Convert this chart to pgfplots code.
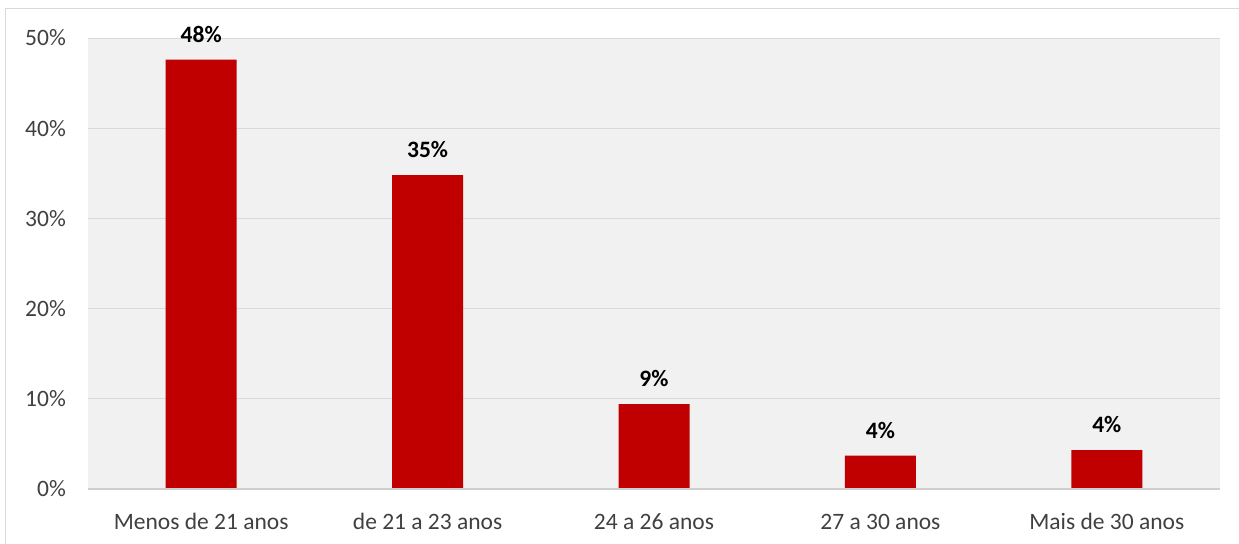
\documentclass[border=0pt]{standalone}
\usepackage{fontspec}
\setmainfont{Carlito}
\usepackage{pgfplots}
\pgfplotsset{compat=1.18}
\definecolor{barred}{HTML}{C00000}
\definecolor{plotbg}{HTML}{F1F1F1}
\definecolor{gridgray}{HTML}{D9D9D9}
\definecolor{axisgray}{HTML}{CFCFCF}
\definecolor{ticktext}{HTML}{404040}
\begin{document}
\begin{tikzpicture}
\path[use as bounding box] (-88bp,-55bp) rectangle (1151bp,489bp);
\draw[gridgray, line width=1bp] (-82bp,-80bp) -- (-82bp,480bp) -- (1180bp,480bp);
\begin{axis}[
  scale only axis,
  width=1132bp, height=451bp,
  xmin=-0.5, xmax=4.5, ymin=0, ymax=50,
  axis background/.style={fill=plotbg},
  axis line style={draw=none},
  major tick length=0pt,
  ymajorgrids,
  grid style={gridgray, line width=0.8bp},
  ytick={0,10,20,30,40,50},
  yticklabel={\pgfmathprintnumber{\tick}\%},
  xtick={0,1,2,3,4},
  xticklabels={Menos de 21 anos, de 21 a 23 anos, 24 a 26 anos, 27 a 30 anos, Mais de 30 anos},
  /pgf/number format/assume math mode=true,
  tick label style={font=\fontsize{23.5bp}{27bp}\selectfont, text=ticktext},
  yticklabel style={anchor=east, inner sep=0pt, xshift=-22bp},
  xticklabel style={anchor=base, inner sep=0pt, yshift=-40bp},
  ybar, bar width=71bp,
  nodes near coords={\pgfmathprintnumber[fixed,precision=0]{\pgfplotspointmeta}\%},
  nodes near coords style={font=\fontsize{23.5bp}{27bp}\selectfont\bfseries, text=black, anchor=base, inner sep=0pt, yshift=17.5bp},
]
\addplot[fill=barred, draw=none] coordinates {(0,47.6) (1,34.8) (2,9.4) (3,3.7) (4,4.3)};
\draw[axisgray, line width=1.2bp] (axis cs:-0.5,0) -- (axis cs:4.5,0);
\end{axis}
\end{tikzpicture}
\end{document}
